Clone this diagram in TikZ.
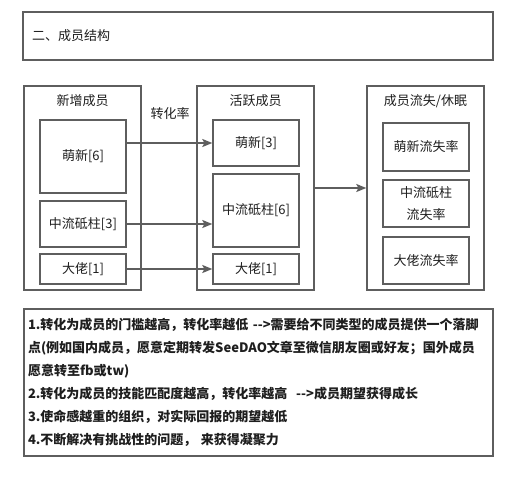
\documentclass[tikz,border=0pt]{standalone}
\usepackage{fontspec}
\setmainfont{Noto Sans CJK SC}
\usepackage{xcolor}
\usetikzlibrary{arrows.meta,positioning}
\definecolor{boxgray}{HTML}{5E5E5E}
\definecolor{txt}{HTML}{1E1E1E}
\tikzset{
  every picture/.style={
    font=\fontsize{13}{16}\selectfont,
    text=txt
  },
  box/.style={
    shape = rectangle,
    draw = boxgray,
    line width = 1.4pt,
    inner sep = 0pt,
    minimum width = 86pt,
    align = center
  },
  column/.style={
    box,
    minimum width = 117pt,
    minimum height = 204pt
  },
  head/.style={
    inner sep = 1pt
  },
  flow/.style={
    draw = boxgray,
    line width = 1.4pt,
    -{Stealth[length=10pt,width=8pt,inset=2pt]}
  }
}

\begin{document}
\begin{tikzpicture}[x=1pt,y=-1pt]
    \useasboundingbox (0,0) rectangle (505,479);
    \def\xl{83}
    \def\xm{256}
    \def\xr{426}
    % title
    \node[box, minimum height=48pt, text width=452pt, inner xsep=9pt, align=left] (title) at (258,36) {二、成员结构};
    % columns
    \node[column] (new) at (82.5,188) {};
    \node[column] (active) at (255.5,188) {};
    \node[column] (lost) at (425.5,188) {};
    \node[head] (newhead) at (82.5,101) {新增成员};
    \node[head] (activehead) at (255.5,101) {活跃成员};
    \node[head] (losthead) at (425.5,101) {成员流失/休眠};
    \node[head] (rate) at (170,114) {转化率};
    % members
    \node[box, minimum height=73pt] (newA) at (\xl,156.5) {萌新[6]};
    \node[box, minimum height=46pt] (newB) at (\xl,224) {中流砥柱[3]};
    \node[box, minimum height=30pt] (newC) at (\xl,269) {大佬[1]};
    \node[box, minimum height=46pt] (actA) at (\xm,143) {萌新[3]};
    \node[box, minimum height=73pt] (actB) at (\xm,210.5) {中流砥柱[6]};
    \node[box, minimum height=30pt] (actC) at (\xm,269) {大佬[1]};
    \node[box, minimum height=48pt] (lostA) at (\xr,147) {萌新流失率};
    \node[box, minimum height=47pt, font=\fontsize{13}{22}\selectfont] (lostB) at (\xr,203.5) {中流砥柱\\流失率};
    \node[box, minimum height=47pt] (lostC) at (\xr,260.5) {大佬流失率};
    % arrows
    \draw[flow] (newA.east |- actA.west) -- (actA.west);
    \draw[flow] (newB.east) -- (actB.west |- newB.east);
    \draw[flow] (newC.east) -- (actC.west);
    \draw[flow] (active.east) -- (lost.west);
    % notes
    \node[box, minimum height=147pt, text width=461pt, inner xsep=4pt, align=left,
          font=\fontsize{13}{23}\selectfont\bfseries] (notes) at (258.5,382.5)
    {1.转化为成员的门槛越高，转化率越低 -{}-{}>需要给不同类型的成员提供一个落脚\\
     点(例如国内成员，愿意定期转发SeeDAO文章至微信朋友圈或好友；国外成员\\
     愿意转至fb或tw)\\
     2.转化为成员的技能匹配度越高，转化率越高 \ -{}-{}>成员期望获得成长\\
     3.使命感越重的组织，对实际回报的期望越低\\
     4.不断解决有挑战性的问题， 来获得凝聚力};
\end{tikzpicture}
\end{document}
